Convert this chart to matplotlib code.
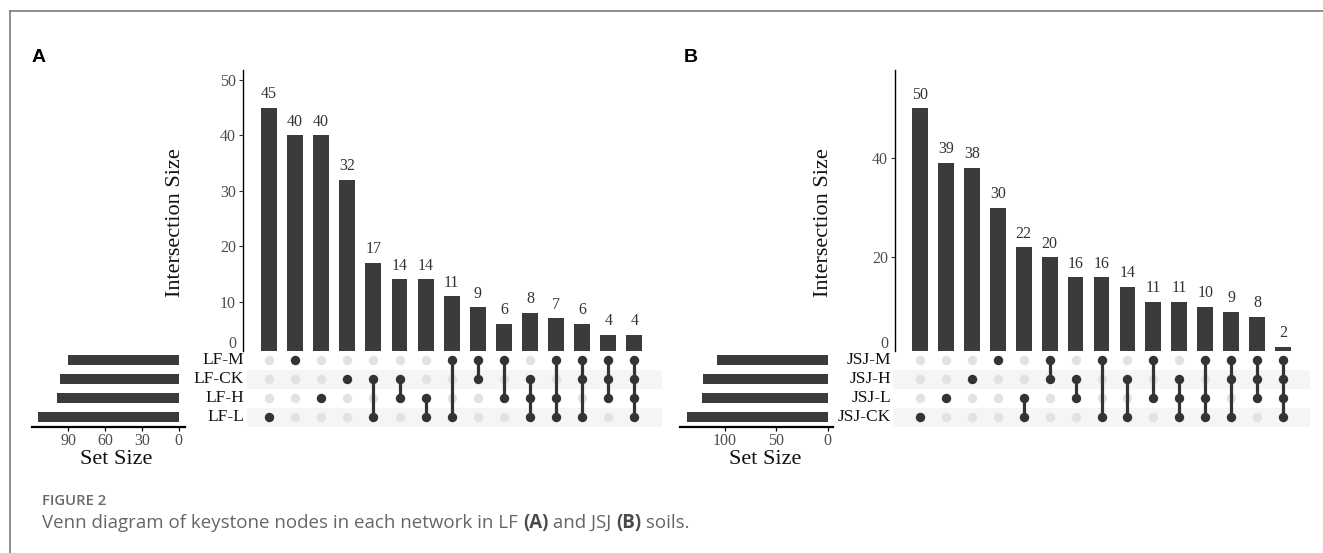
import matplotlib
matplotlib.use('Agg')
import matplotlib.pyplot as plt
from matplotlib.lines import Line2D

W, H = 1323, 553
plt.rcParams['font.family'] = ['Liberation Serif', 'DejaVu Serif']

# ---------------- data ----------------
# Panel A (rows listed top to bottom in the matrix)
a_sets = ['LF-M', 'LF-CK', 'LF-H', 'LF-L']
a_set_sizes = [90, 97, 99, 115]
a_counts = [45, 40, 40, 32, 17, 14, 14, 11, 9, 6, 8, 7, 6, 4, 4]
a_combos = [
    ['LF-L'], ['LF-M'], ['LF-H'], ['LF-CK'],
    ['LF-CK', 'LF-L'], ['LF-CK', 'LF-H'], ['LF-H', 'LF-L'], ['LF-M', 'LF-L'],
    ['LF-M', 'LF-CK'], ['LF-M', 'LF-H'], ['LF-CK', 'LF-H', 'LF-L'],
    ['LF-M', 'LF-H', 'LF-L'], ['LF-M', 'LF-CK', 'LF-L'], ['LF-M', 'LF-CK', 'LF-H'],
    ['LF-M', 'LF-CK', 'LF-H', 'LF-L'],
]
a_yticks = [10, 20, 30, 40, 50]
a_set_ticks = [90, 60, 30, 0]

# Panel B
b_sets = ['JSJ-M', 'JSJ-H', 'JSJ-L', 'JSJ-CK']
b_set_sizes = [108, 121, 122, 137]
b_counts = [50, 39, 38, 30, 22, 20, 16, 16, 14, 11, 11, 10, 9, 8, 2]
b_combos = [
    ['JSJ-CK'], ['JSJ-L'], ['JSJ-H'], ['JSJ-M'],
    ['JSJ-L', 'JSJ-CK'], ['JSJ-M', 'JSJ-H'], ['JSJ-H', 'JSJ-L'], ['JSJ-M', 'JSJ-CK'],
    ['JSJ-H', 'JSJ-CK'], ['JSJ-M', 'JSJ-L'], ['JSJ-H', 'JSJ-L', 'JSJ-CK'],
    ['JSJ-M', 'JSJ-L', 'JSJ-CK'], ['JSJ-M', 'JSJ-H', 'JSJ-CK'], ['JSJ-M', 'JSJ-H', 'JSJ-L'],
    ['JSJ-M', 'JSJ-H', 'JSJ-L', 'JSJ-CK'],
]
b_yticks = [20, 40]
b_set_ticks = [100, 50, 0]

# ---------------- style ----------------
BAR = '#3b3b3b'
DOT = '#333333'
GREY_DOT = '#e2e2e2'
SHADE = '#f5f5f5'
TICK = '#4d4d4d'

fig = plt.figure(figsize=(W / 100, H / 100), dpi=100)


def box(l, t, r, b):
    return [l / W, 1 - b / H, (r - l) / W, (b - t) / H]


MAT_TOP, MAT_BOT = 350.5, 426.5
ROW_H = (MAT_BOT - MAT_TOP) / 4


def draw_panel(sets, sizes, counts, combos, yticks, set_ticks, g):
    c0, s = g['c0'], g['step']
    n = len(counts)
    xs = list(range(n))

    # ---- intersection bars ----
    axb = fig.add_axes(box(g['axis_x'], 70, g['right'], MAT_TOP))
    bars = axb.bar(xs, counts, width=0.61, color=BAR)
    axb.bar_label(bars, padding=4, fontsize=11.5, color='#333333')
    axb.set_xlim((g['axis_x'] - c0) / s, (g['right'] - c0) / s)
    axb.set_ylim((g['zero'] - MAT_TOP) / g['ppu'], (g['zero'] - 70) / g['ppu'])
    for sp in ['top', 'right', 'bottom']:
        axb.spines[sp].set_visible(False)
    axb.spines['left'].set_linewidth(1.0)
    axb.set_xticks([])
    axb.set_yticks(yticks)
    axb.tick_params(axis='y', length=3, width=0.8, pad=2, labelsize=11.5,
                    labelcolor=TICK, color='#333333')
    fig.text((g['axis_x'] - 7) / W, 1 - 344 / H, '0', ha='right', va='center',
             fontsize=11.5, color=TICK)
    fig.text(g['ylab_x'] / W, 1 - 223 / H, 'Intersection Size', rotation=90,
             ha='center', va='center', fontsize=16, color='#111111')

    # ---- matrix ----
    nrows = len(sets)
    ypos = {name: nrows - 1 - i for i, name in enumerate(sets)}
    axm = fig.add_axes(box(g['mat_x'], MAT_TOP, g['right'], MAT_BOT))
    axm.set_xlim((g['mat_x'] - c0) / s, (g['right'] - c0) / s)
    axm.set_ylim(-0.5, nrows - 0.5)
    for i, name in enumerate(sets):
        if i % 2 == 1:
            axm.axhspan(ypos[name] - 0.5, ypos[name] + 0.5, color=SHADE, lw=0, zorder=0)
    for j, combo in enumerate(combos):
        for name in sets:
            member = name in combo
            axm.scatter(j, ypos[name], s=46, linewidths=0, zorder=3 if member else 1.5,
                        color=DOT if member else GREY_DOT)
        ys = [ypos[nm] for nm in combo]
        if len(ys) > 1:
            axm.plot([j, j], [min(ys), max(ys)], color=DOT, lw=2.3, zorder=2,
                     solid_capstyle='butt')
    axm.axis('off')

    for i, name in enumerate(sets):
        yc = MAT_TOP + ROW_H * (i + 0.5)
        fig.text(g['label_x'] / W, 1 - yc / H, name, ha='right', va='center',
                 fontsize=12.5, color='#111111')

    # ---- set size bars ----
    axs = fig.add_axes(box(g['set_l'], MAT_TOP, g['set_r'], MAT_BOT))
    axs.barh([ypos[nm] for nm in sets], sizes, height=0.53, color=BAR)
    axs.set_xlim(*g['set_xlim'])
    axs.set_ylim(-0.5, nrows - 0.5)
    for sp in ['top', 'right', 'left']:
        axs.spines[sp].set_visible(False)
    axs.spines['bottom'].set_linewidth(1.6)
    axs.set_yticks([])
    axs.set_xticks(set_ticks)
    axs.tick_params(axis='x', length=3, width=0.9, pad=1.5, labelsize=11.5,
                    labelcolor=TICK)
    fig.text(g['setlab_x'] / W, 1 - 459 / H, 'Set Size', ha='center', va='center',
             fontsize=16, color='#111111')

    fig.text(g['letter_x'] / W, 1 - 57 / H, g['letter'], ha='left', va='center',
             family=['Liberation Sans', 'DejaVu Sans'], weight='bold', fontsize=14,
             color='#000000')


geo_a = dict(c0=269, step=26.1, axis_x=243, right=662, mat_x=247, zero=357, ppu=5.54,
             label_x=244, set_l=32, set_r=185, set_xlim=(119.6, -5.1), ylab_x=176,
             setlab_x=116, letter_x=32, letter='A')
geo_b = dict(c0=920, step=25.93, axis_x=895, right=1310, mat_x=893, zero=356.5,
             ppu=4.965, label_x=891, set_l=680, set_r=833, set_xlim=(143.9, -5.2),
             ylab_x=824, setlab_x=765, letter_x=684, letter='B')

draw_panel(a_sets, a_set_sizes, a_counts, a_combos, a_yticks, a_set_ticks, geo_a)
draw_panel(b_sets, b_set_sizes, b_counts, b_combos, b_yticks, b_set_ticks, geo_b)

# ---- frame lines ----
fig.add_artist(Line2D([10 / W, 1], [1 - 11 / H, 1 - 11 / H], transform=fig.transFigure,
                      color='#7a7a7a', lw=1.2))
fig.add_artist(Line2D([10 / W, 10 / W], [1 - 11 / H, 0], transform=fig.transFigure,
                      color='#7a7a7a', lw=1.2))

# ---- caption ----
CAP_FONT = ['Open Sans', 'DejaVu Sans']
fig.text(42 / W, 1 - 501 / H, 'FIGURE 2', family=CAP_FONT, weight='semibold',
         fontsize=10.7, color='#6a6a6a', ha='left', va='center')

pieces = [
    ('Venn diagram of keystone nodes in each network in LF ', 'normal', '#666666'),
    ('(A)', 'bold', '#4a4a4a'),
    (' and JSJ ', 'normal', '#666666'),
    ('(B)', 'bold', '#4a4a4a'),
    (' soils.', 'normal', '#666666'),
]
renderer = fig.canvas.get_renderer()
xpix = 42.0
for txt, wt, col in pieces:
    t = fig.text(xpix / W, 1 - 523 / H, txt, family=CAP_FONT, weight=wt, fontsize=13.5,
                 color=col, ha='left', va='center')
    bb = t.get_window_extent(renderer=renderer)
    xpix += bb.width

fig.savefig('out.png', dpi=100)
